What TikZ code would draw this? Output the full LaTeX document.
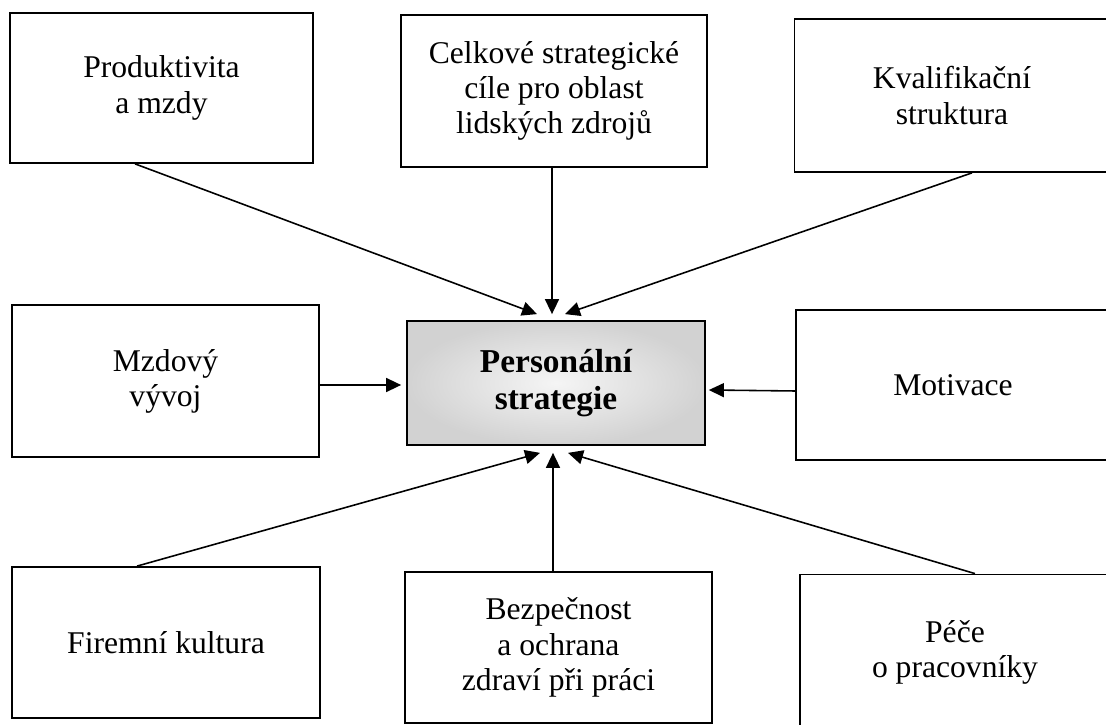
\documentclass[tikz,border=0pt]{standalone}
\usepackage{fontspec}
\setmainfont{Liberation Serif}
\usetikzlibrary{arrows.meta}

\begin{document}
\begin{tikzpicture}[
	box/.style={draw=black, line width=1pt, align=center, inner sep=0pt,
		font=\fontsize{18}{20}\selectfont},
	arr/.style={draw=black, line width=0.9pt, -{Triangle[length=0.3cm,width=0.28cm]}}
	]
	\useasboundingbox (0,0) rectangle (22.12,14.5);
	\clip (0,0) rectangle (22.12,14.5);
	% outer boxes
	\node [box, minimum width=6.06cm, minimum height=3cm] (prod) at (3.23,12.74) {Produktivita\\a mzdy};
	\node [box, minimum width=6.12cm, minimum height=3.04cm] (cile) at (11.08,12.68) {Celkové strategické\\cíle pro oblast\\lidských zdrojů};
	\node [box, minimum width=6.3cm, minimum height=3.06cm] (kval) at (19.04,12.59) {Kvalifikační\\struktura};
	\node [box, minimum width=6.14cm, minimum height=3.04cm] (mzdy) at (3.31,6.88) {Mzdový\\vývoj};
	\node [box, minimum width=6.28cm, minimum height=3cm] (motiv) at (19.06,6.8) {Motivace};
	\node [box, minimum width=6.16cm, minimum height=3.02cm] (firm) at (3.32,1.65) {Firemní kultura};
	\node [box, minimum width=6.14cm, minimum height=3.02cm] (bezp) at (11.17,1.55) {Bezpečnost\\a ochrana\\zdraví při práci};
	\node [box, minimum width=6.2cm, minimum height=3.1cm] (pece) at (19.1,1.46) {Péče\\o pracovníky};
	% central box
	\node [box, minimum width=5.96cm, minimum height=2.48cm, shade, inner color=gray!8, outer color=gray!35,
		font=\fontsize{19}{21.5}\selectfont\bfseries] (strat) at (11.12,6.84) {Personální\\strategie};
	% arrows into the centre
	\draw [arr] ([xshift=-0.53cm]prod.south) -- ([xshift=-0.38cm,yshift=0.12cm]strat.north);
	\draw [arr] ([xshift=-0.04cm]cile.south) -- ([xshift=-0.08cm,yshift=0.12cm]strat.north);
	\draw [arr] ([xshift=0.4cm]kval.south) -- ([xshift=0.18cm,yshift=0.12cm]strat.north);
	\draw [arr] ([yshift=-0.08cm]mzdy.east) -- ([xshift=-0.1cm,yshift=-0.04cm]strat.west);
	\draw [arr] ([yshift=-0.12cm]motiv.west) -- ([xshift=0.06cm,yshift=-0.14cm]strat.east);
	\draw [arr] ([xshift=-0.58cm]firm.north) -- ([xshift=-0.32cm,yshift=-0.14cm]strat.south);
	\draw [arr] ([xshift=-0.11cm]bezp.north) -- ([xshift=-0.06cm,yshift=-0.14cm]strat.south);
	\draw [arr] ([xshift=0.4cm]pece.north) -- ([xshift=0.24cm,yshift=-0.14cm]strat.south);
\end{tikzpicture}
\end{document}
